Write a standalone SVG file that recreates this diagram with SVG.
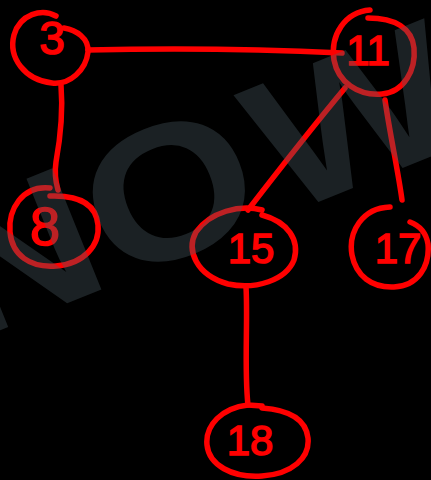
<svg xmlns="http://www.w3.org/2000/svg" width="431" height="480" viewBox="0 0 431 480">
<style>
.ring{fill:none;stroke:#ff0000;stroke-width:5.5;stroke-linecap:round;stroke-linejoin:round}
.edge{fill:none;stroke:#ff0000;stroke-width:5.5;stroke-linecap:round;stroke-linejoin:round}
.lbl{fill:#ff0000;stroke:#ff0000;stroke-width:1.5;font-family:"Liberation Sans",Arial,sans-serif;font-size:42px;text-anchor:middle;dominant-baseline:central}
.wm{fill:rgb(75,92,100);opacity:0.36;font-family:"Liberation Sans",Arial,sans-serif;font-weight:bold;font-size:190px}
</style>
<rect width="431" height="480" fill="#000000"/>
<g id="edges">
<path class="edge" d="M88,50 C170,48 260,49 342,53"/>
<path class="edge" d="M61,85 C63,110 60,140 56,162 C54,175 56,183 58,190"/>
<path class="edge" d="M345,88 C310,130 275,175 248,210"/>
<path class="edge" d="M385,100 C390,135 398,170 402,200"/>
<path class="edge" d="M246,287 C248,320 244,370 248,405 L262,406"/>
</g>
<g id="node-3">
<path class="ring" d="M56,16 C42,8 20,14 14,35 C8,58 25,80 52,83 C70,85 86,70 88,52 C89,38 76,30 64,28"/>
<text class="lbl" x="52" y="38" style="font-size:46px">3</text>
</g>
<g id="node-11">
<path class="ring" d="M370,10 C345,12 330,35 334,60 C338,82 358,96 382,94 C404,92 416,70 414,48 C412,28 395,18 368,18"/>
<text class="lbl" x="368" y="50">11</text>
</g>
<g id="node-8">
<path class="ring" d="M50,188 C22,185 8,210 10,232 C12,255 30,268 56,266 C84,264 100,245 98,225 C96,203 78,195 50,196"/>
<text class="lbl" x="45" y="226" style="font-size:54px">8</text>
</g>
<g id="node-15">
<path class="ring" d="M262,210 C240,204 210,212 196,232 C186,250 196,275 228,284 C256,290 286,280 294,260 C300,240 288,222 262,215"/>
<text class="lbl" x="251" y="248">15</text>
</g>
<g id="node-17">
<path class="ring" d="M390,207 C362,208 348,232 352,255 C356,276 372,288 394,287 C418,286 430,266 428,244 C426,232 418,225 410,222"/>
<text class="lbl" x="398" y="248">17</text>
</g>
<g id="node-18">
<path class="ring" d="M248,405 C222,408 205,425 207,445 C209,465 232,478 262,476 C292,474 310,458 308,438 C306,420 290,410 262,408"/>
<text class="lbl" x="250" y="440">18</text>
</g>
<g id="watermark">
<text class="wm" transform="translate(169,191) rotate(-22) scale(1.15,1)" x="-211" y="66">NO<tspan dx="9">W</tspan></text>
</g>
</svg>
